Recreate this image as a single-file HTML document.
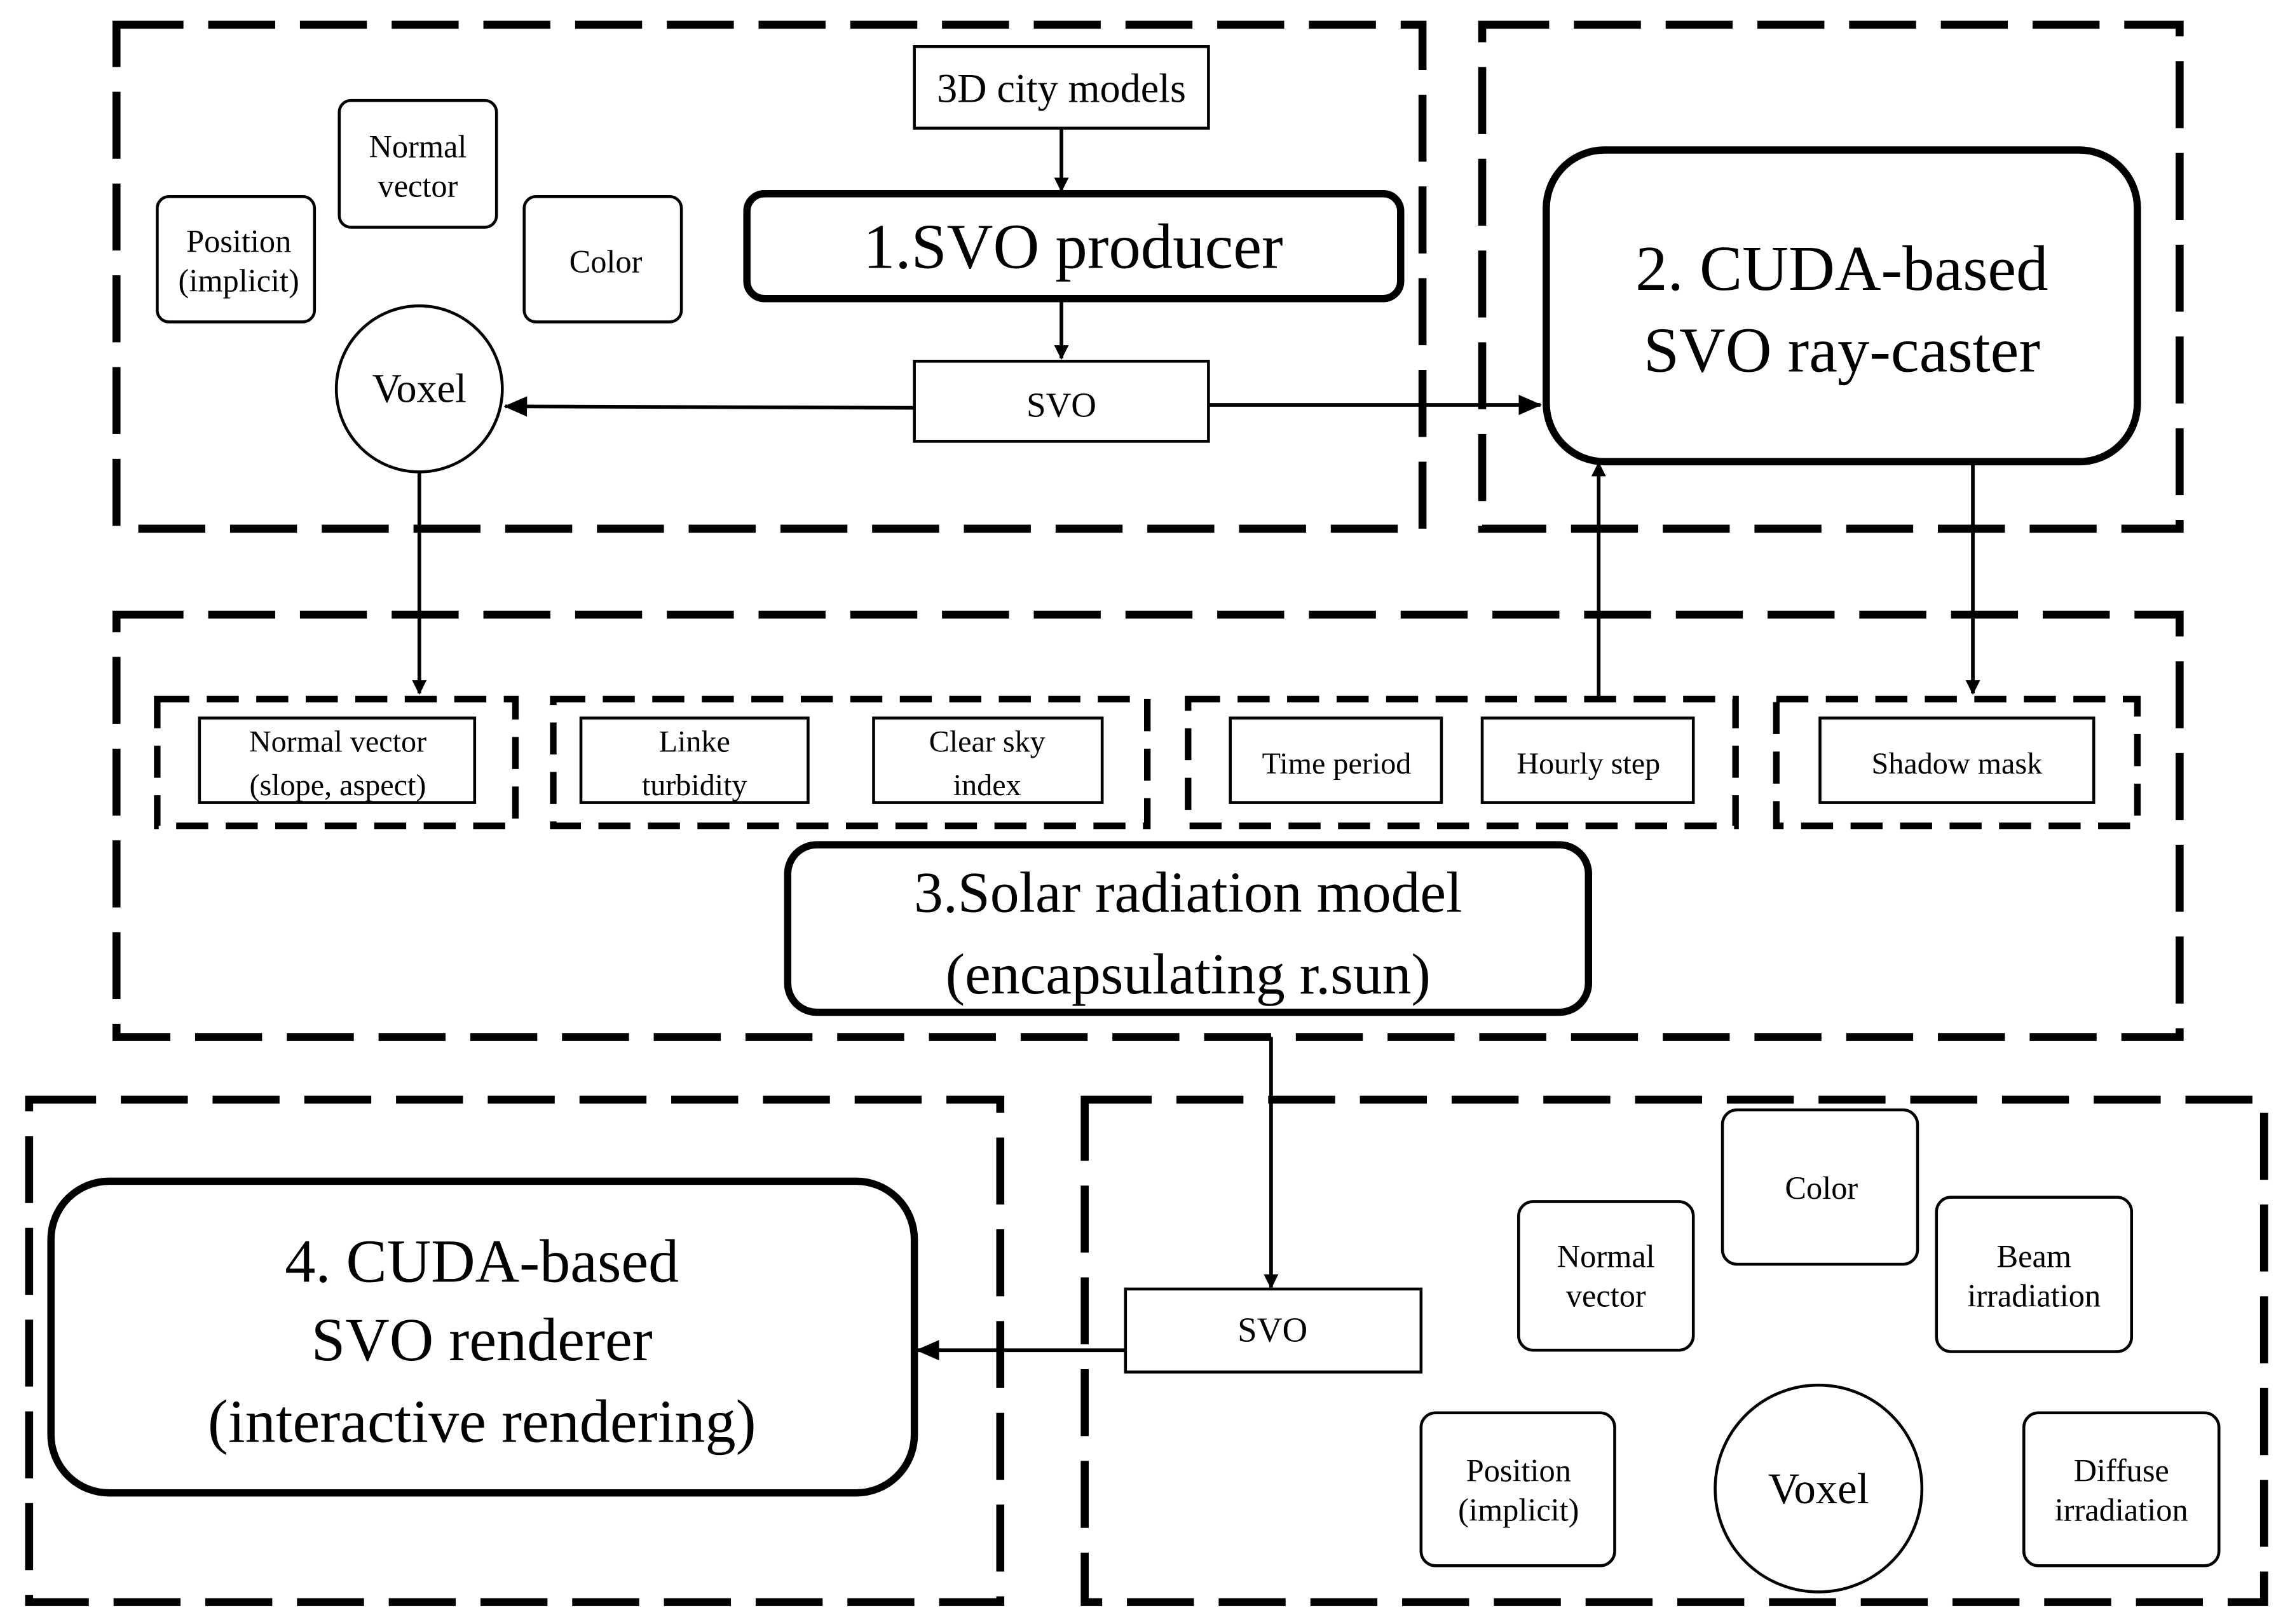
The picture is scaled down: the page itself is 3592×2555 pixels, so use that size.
<!DOCTYPE html>
<html><head><meta charset="utf-8"><style>
html,body{margin:0;padding:0;background:#fff;}
svg{display:block;}
text{font-family:"Liberation Serif",serif;fill:#000;}
</style></head><body>
<svg width="3592" height="2555" viewBox="0 0 1568 1115" preserveAspectRatio="none" xmlns="http://www.w3.org/2000/svg">
<defs>
<marker id="ah" markerWidth="10" markerHeight="10" refX="9" refY="5" orient="auto" markerUnits="userSpaceOnUse">
<path d="M0,0 L10,5 L0,10 z" fill="#000"/>
</marker>
<marker id="ah2" markerWidth="16" markerHeight="14" refX="15" refY="7" orient="auto" markerUnits="userSpaceOnUse">
<path d="M0,0 L16,7 L0,14 z" fill="#000"/>
</marker>
</defs>
<g fill="none" stroke="#000" stroke-width="5.5" stroke-dasharray="46 17">
<rect x="80" y="17" width="897" height="346"/>
<rect x="1018" y="17" width="479" height="346"/>
<rect x="80" y="422" width="1417" height="290"/>
<rect x="20" y="755" width="667" height="345"/>
<rect x="745" y="755" width="810" height="345"/>
</g>
<g fill="none" stroke="#000" stroke-width="4.5" stroke-dasharray="22 12">
<rect x="108" y="480" width="246" height="87"/>
<rect x="380" y="480" width="408" height="87"/>
<rect x="816" y="480" width="376" height="87"/>
<rect x="1220" y="480" width="248" height="87"/>
</g>
<g fill="none" stroke="#000" stroke-width="2">
<rect x="628" y="32" width="202" height="56"/>
<rect x="628" y="248" width="202" height="55"/>
<rect x="773" y="885" width="203" height="57"/>
<rect x="108" y="135" width="108" height="86" rx="8"/>
<rect x="233" y="69" width="108" height="87" rx="8"/>
<rect x="360" y="135" width="108" height="86" rx="8"/>
<ellipse cx="288" cy="267" rx="57" ry="57"/>
<rect x="137" y="493" width="189" height="58"/>
<rect x="399" y="493" width="156" height="58"/>
<rect x="600" y="493" width="157" height="58"/>
<rect x="845" y="493" width="145" height="58"/>
<rect x="1018" y="493" width="145" height="58"/>
<rect x="1250" y="493" width="188" height="58"/>
<rect x="1183" y="762" width="134" height="106" rx="10"/>
<rect x="1043" y="825" width="120" height="102" rx="10"/>
<rect x="1330" y="822" width="134" height="106" rx="10"/>
<rect x="976" y="970" width="133" height="105" rx="10"/>
<rect x="1390" y="970" width="134" height="105" rx="10"/>
<ellipse cx="1249" cy="1022" rx="71" ry="71"/>
</g>
<g fill="none" stroke="#000" stroke-width="5">
<rect x="513" y="133" width="449" height="72" rx="12"/>
<rect x="1062" y="103" width="406" height="214" rx="40"/>
<rect x="541" y="580" width="550" height="115" rx="20"/>
<rect x="35" y="811" width="593" height="214" rx="40"/>
</g>
<g stroke="#000" stroke-width="2.5" fill="none">
<line x1="729" y1="88" x2="729" y2="131" marker-end="url(#ah)"/>
<line x1="729" y1="205" x2="729" y2="246" marker-end="url(#ah)"/>
<line x1="628" y1="280" x2="347" y2="279" marker-end="url(#ah2)"/>
<line x1="830" y1="278" x2="1058" y2="278" marker-end="url(#ah2)"/>
<line x1="288" y1="324" x2="288" y2="476" marker-end="url(#ah)"/>
<line x1="1098" y1="478" x2="1098" y2="318" marker-end="url(#ah)"/>
<line x1="1355" y1="317" x2="1355" y2="476" marker-end="url(#ah)"/>
<line x1="873" y1="712" x2="873" y2="884" marker-end="url(#ah)"/>
<line x1="773" y1="927" x2="630" y2="927" marker-end="url(#ah2)"/>
</g>
<g text-anchor="middle">
<text x="729" y="70" font-size="28">3D city models</text>
<text x="737" y="184" font-size="44">1.SVO producer</text>
<text x="729" y="286" font-size="24">SVO</text>
<text x="287" y="108" font-size="22">Normal</text>
<text x="287" y="135" font-size="22">vector</text>
<text x="164" y="173" font-size="22">Position</text>
<text x="164" y="200" font-size="22">(implicit)</text>
<text x="416" y="187" font-size="22">Color</text>
<text x="288" y="276" font-size="28">Voxel</text>
<text x="1265" y="199" font-size="44">2. CUDA-based</text>
<text x="1265" y="255" font-size="44">SVO ray-caster</text>
<text x="232" y="516" font-size="21">Normal vector</text>
<text x="232" y="546" font-size="21">(slope, aspect)</text>
<text x="477" y="516" font-size="21">Linke</text>
<text x="477" y="546" font-size="21">turbidity</text>
<text x="678" y="516" font-size="21">Clear sky</text>
<text x="678" y="546" font-size="21">index</text>
<text x="918" y="531" font-size="21">Time period</text>
<text x="1091" y="531" font-size="21">Hourly step</text>
<text x="1344" y="531" font-size="21">Shadow mask</text>
<text x="816" y="626" font-size="40">3.Solar radiation model</text>
<text x="816" y="682" font-size="40">(encapsulating r.sun)</text>
<text x="874" y="921" font-size="24">SVO</text>
<text x="331" y="880" font-size="42">4. CUDA-based</text>
<text x="331" y="934" font-size="42">SVO renderer</text>
<text x="331" y="990" font-size="42">(interactive rendering)</text>
<text x="1251" y="823" font-size="22">Color</text>
<text x="1103" y="870" font-size="22">Normal</text>
<text x="1103" y="897" font-size="22">vector</text>
<text x="1397" y="870" font-size="22">Beam</text>
<text x="1397" y="897" font-size="22">irradiation</text>
<text x="1043" y="1017" font-size="22">Position</text>
<text x="1043" y="1044" font-size="22">(implicit)</text>
<text x="1457" y="1017" font-size="22">Diffuse</text>
<text x="1457" y="1044" font-size="22">irradiation</text>
<text x="1249" y="1032" font-size="30">Voxel</text>
</g>
</svg>
</body></html>
